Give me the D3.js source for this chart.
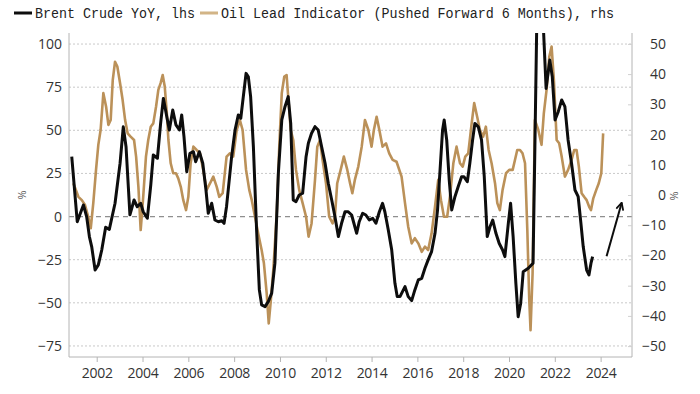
<!DOCTYPE html>
<html>
<head>
<meta charset="utf-8">
<script src="https://cdn.jsdelivr.net/npm/d3@7"></script>
<style>
  body { margin: 0; background: #fff; }
  svg { display: block; }
</style>
</head>
<body>
<div id="chart"></div>
<script>
// Brent Crude YoY (%), left axis
var brentYears = [2000.91, 2001.15, 2001.42, 2001.56, 2001.68, 2001.78, 2001.93, 2002.07, 2002.22, 2002.39, 2002.55, 2002.80,
  2003.02, 2003.16, 2003.28, 2003.38, 2003.45, 2003.63, 2003.77, 2003.92, 2004.03, 2004.21, 2004.36, 2004.47, 2004.65,
  2004.79, 2004.91, 2005.06, 2005.17, 2005.32, 2005.46, 2005.61, 2005.71, 2005.81, 2005.93, 2006.07, 2006.22, 2006.32,
  2006.48, 2006.63, 2006.77, 2006.87, 2007.02, 2007.16, 2007.31, 2007.46, 2007.56, 2007.67, 2007.89, 2008.04, 2008.18,
  2008.29, 2008.40, 2008.52, 2008.62, 2008.72, 2008.84, 2008.98, 2009.10, 2009.20, 2009.35, 2009.49, 2009.64, 2009.78,
  2009.93, 2010.08, 2010.22, 2010.36, 2010.47, 2010.58, 2010.70, 2010.84, 2010.99, 2011.14, 2011.24, 2011.38, 2011.53,
  2011.67, 2011.82, 2011.97, 2012.11, 2012.26, 2012.40, 2012.55, 2012.69, 2012.84, 2012.98, 2013.13, 2013.27, 2013.35,
  2013.46, 2013.61, 2013.75, 2013.90, 2014.05, 2014.19, 2014.34, 2014.48, 2014.58, 2014.73, 2014.88, 2015.02, 2015.12,
  2015.24, 2015.46, 2015.60, 2015.75, 2015.89, 2016.04, 2016.19, 2016.33, 2016.47, 2016.62, 2016.77, 2016.88, 2016.99,
  2017.10, 2017.17, 2017.28, 2017.39, 2017.50, 2017.64, 2017.78, 2017.93, 2018.03, 2018.18, 2018.29, 2018.41, 2018.51,
  2018.66, 2018.80, 2018.92, 2019.05, 2019.17, 2019.29, 2019.43, 2019.57, 2019.72, 2019.82, 2019.97, 2020.07, 2020.18,
  2020.30, 2020.40, 2020.51, 2020.62, 2020.84, 2021.05, 2021.13, 2021.21, 2021.35, 2021.50, 2021.62, 2021.78, 2021.89,
  2022.01, 2022.15, 2022.30, 2022.44, 2022.58, 2022.73, 2022.88, 2023.02, 2023.14, 2023.24, 2023.39, 2023.49, 2023.58,
  2023.65];
var brentYoY = [34.7, -3, 6.7, 0, -11.6, -17.4, -31, -28, -19.4, -6.2, -7.4, 7.7,
  30.9, 52, 40.5, 17.3, 1, 9.6, 5.7, 7.7, 2.8, -1, 18.3, 35.7, 33.8,
  54, 68.5, 57.9, 50.2, 61.8, 53.1, 50.2, 58.9, 46.3, 26, 36.7, 37.6, 31.8,
  37.6, 30.9, 15.4, 1.9, 7.7, -2, -3, -2.4, -3.9, 6, 34.7, 50.2, 58.9,
  57, 69.5, 83, 81, 69.5, 40.5, -7.8, -42.5, -51.2, -52.2, -49.3, -44.4, -27,
  25.1, 56, 63.7, 69.5, 54, 9.6, 8.6, 12.5, 13.5, 34.7, 42.5, 48.3, 52.1,
  50.2, 40.5, 30.9, 19.3, 9.6, 0, -11.6, -3.9, 2.8, 2.8, 0.9, -5.9, -9.7,
  -3, 1.9, 0.9, -2, -1, -3.9, 2.8, 7.7, 2.8, -7.8, -19.4, -38.7, -46.4,
  -46.4, -40.6, -46.4, -48.7, -42.5, -36.7, -35.8, -30, -25.1, -20.3, -9.7, 3.8, 27,
  50.2, 56, 44.4, 21.2, 3.8, 11.5, 17.3, 23.1, 23.1, 20.2, 30.9, 44.4, 54,
  52, 44.4, 23.1, -11.6, -5.9, -2, -9.7, -15.5, -19.4, -23.2, -3.9, 7.7, -11.6,
  -38.7, -58, -50.2, -32, -30, -27, 40, 110, 160, 110, 74.3, 90.7, 81,
  56, 60.8, 67.6, 63.7, 44.4, 30.9, 15.4, 11.5, -3.9, -17.4, -31, -33.8, -27,
  -23.2];

// Oil Lead Indicator (pushed forward 6 months), right axis
var leadYears = [2000.98, 2001.20, 2001.35, 2001.49, 2001.63, 2001.74, 2001.85, 2001.97, 2002.07, 2002.17, 2002.29, 2002.41,
  2002.51, 2002.61, 2002.70, 2002.80, 2002.90, 2003.02, 2003.13, 2003.24, 2003.35, 2003.48, 2003.63, 2003.72, 2003.82,
  2003.92, 2004.03, 2004.15, 2004.25, 2004.36, 2004.47, 2004.59, 2004.69, 2004.79, 2004.88, 2004.97, 2005.06, 2005.13,
  2005.23, 2005.34, 2005.46, 2005.56, 2005.67, 2005.78, 2005.90, 2006.00, 2006.10, 2006.22, 2006.36, 2006.51, 2006.65,
  2006.80, 2006.95, 2007.09, 2007.24, 2007.35, 2007.50, 2007.67, 2007.82, 2007.96, 2008.11, 2008.25, 2008.37, 2008.52,
  2008.66, 2008.77, 2008.91, 2009.05, 2009.20, 2009.30, 2009.42, 2009.51, 2009.59, 2009.71, 2009.86, 2009.97, 2010.08,
  2010.19, 2010.29, 2010.36, 2010.47, 2010.58, 2010.70, 2010.84, 2010.99, 2011.14, 2011.25, 2011.38, 2011.53, 2011.63,
  2011.75, 2011.86, 2012.01, 2012.15, 2012.30, 2012.40, 2012.50, 2012.65, 2012.79, 2012.94, 2013.06, 2013.16, 2013.27,
  2013.42, 2013.57, 2013.71, 2013.86, 2014.00, 2014.10, 2014.22, 2014.34, 2014.48, 2014.63, 2014.77, 2014.92, 2015.09,
  2015.31, 2015.46, 2015.60, 2015.75, 2015.89, 2016.04, 2016.19, 2016.33, 2016.47, 2016.62, 2016.77, 2016.91, 2017.03,
  2017.16, 2017.30, 2017.42, 2017.57, 2017.71, 2017.86, 2017.98, 2018.09, 2018.22, 2018.37, 2018.48, 2018.61, 2018.73,
  2018.87, 2018.99, 2019.11, 2019.24, 2019.39, 2019.49, 2019.60, 2019.72, 2019.87, 2020.01, 2020.16, 2020.26, 2020.36,
  2020.48, 2020.59, 2020.70, 2020.80, 2020.88, 2020.94, 2021.03, 2021.13, 2021.28, 2021.42, 2021.52, 2021.64, 2021.76,
  2021.86, 2021.96, 2022.08, 2022.19, 2022.30, 2022.44, 2022.58, 2022.73, 2022.85, 2022.95, 2023.05, 2023.17, 2023.28,
  2023.39, 2023.50, 2023.58, 2023.68, 2023.81, 2023.92, 2024.03, 2024.11];
var leadIndicator = [3.9, -0.6, -1.7, -3.3, -7.2, -11, -2.7, 8.3, 16.6, 21.5, 33.7, 29.2,
  23.2, 24.8, 38, 44.1, 42.5, 37, 31.5, 24.8, 20.4, 19.3, 18.2, 12.7, 2.7,
  -11.6, -0.6, 12.7, 18.2, 22.6, 23.7, 29.2, 34.8, 37, 39.7, 35.9, 27.1, 18.2,
  10.5, 7.2, 7.2, 5.5, 2.7, -1.7, -5, -0.6, 10.5, 16, 14.9, 13.8, 8.3,
  1.7, 3.9, 6.1, 2.7, -0.6, 0.6, 12.7, 13.8, 12.7, 21.5, 24.8, 21.5, 8.3,
  1.7, -1.7, -7.2, -12.7, -18.2, -22.6, -32.5, -42.5, -35.9, -24.8, -6.1, 16, 33.7,
  39.2, 39.7, 32.5, 21.5, 18.2, 8.3, 1.7, -2.7, -7.2, -13.8, -9.4, 5, 16,
  18.2, 11.6, 3.9, -7.2, -9.4, -7.2, 3.9, 8.3, 12.7, 8.3, 3.9, 0.6, 5,
  9.4, 16, 24.8, 21.5, 16, 21.5, 25.9, 21.5, 16, 17.1, 13.8, 11.6, 11,
  6.1, -2.7, -10.5, -16, -14.3, -16, -18.8, -17.1, -18.2, -12.7, -3.9, 5, -1.7,
  -7.2, -7.2, -0.6, 10.5, 16, 10.5, 9.4, 12.7, 13.8, 23.7, 30.4, 25.9, 21.5,
  19.3, 22.6, 14.9, 10.5, 3.9, -2.7, -5, 1.7, 7.2, 8.3, 8.3, 11.6, 14.9,
  14.9, 13.8, 10.5, -11.6, -33.7, -44.7, -25.9, 24.8, 21.5, 16.6, 27, 34.8, 45.8,
  49.1, 38, 18.2, 17.1, 12.7, 6.1, 8.3, 11.6, 14.9, 14.9, 9.4, 0.6, -0.6,
  -1.7, -3.9, -5, -1.1, 1.7, 3.9, 7.2, 20.4];

var leftTicks = [-75, -50, -25, 0, 25, 50, 75, 100];
var rightTicks = [-50, -40, -30, -20, -10, 0, 10, 20, 30, 40, 50];
var yearTicks = [2002, 2004, 2006, 2008, 2010, 2012, 2014, 2016, 2018, 2020, 2022, 2024];
var seriesNames = ["Brent Crude YoY, lhs", "Oil Lead Indicator (Pushed Forward 6 Months), rhs"];
// annotation arrow, in (year, lhs value)
var arrowFrom = [2024.26, -23];
var arrowTo = [2024.92, 8];

var margin = {top: 33, right: 68, bottom: 37, left: 69},
  width = 700 - margin.left - margin.right,
  height = 394 - margin.top - margin.bottom;

var svg = d3.select("#chart")
.append("svg")
  .attr("width", 700)
  .attr("height", 394)
.append("g")
  .attr("transform", "translate(" + margin.left + "," + margin.top + ")");

var x = d3.scaleLinear().domain([2000.79, 2025.37]).range([0, width]);
var yL = d3.scaleLinear().domain([-81.4, 106.4]).range([height, 0]);
var yR = d3.scaleLinear().domain([-53.6, 53.6]).range([height, 0]);

var black = "#0d0d0d", gold = "#bb9159", axisCol = "#b4b4b4", textCol = "#333";
var tickFont = "'Open Sans', sans-serif";

// gridlines
svg.selectAll(".grid")
.data(leftTicks.filter(function(d){ return d !== 0; }))
.enter()
.append("line")
  .attr("x1", 0).attr("x2", width)
  .attr("y1", function(d){ return yL(d); })
  .attr("y2", function(d){ return yL(d); })
  .attr("stroke", "#c9c9c9")
  .attr("stroke-dasharray", "2,2");

svg.append("line")
  .attr("x1", 0).attr("x2", width)
  .attr("y1", yL(0)).attr("y2", yL(0))
  .attr("stroke", "#8f8f8f")
  .attr("stroke-width", 1.2)
  .attr("stroke-dasharray", "5,4");

// frame
svg.append("path")
  .attr("d", "M0,0V" + height + "H" + width + "V0")
  .attr("fill", "none")
  .attr("stroke", axisCol);

// left axis
var gl = svg.append("g")
  .call(d3.axisLeft(yL).tickValues(leftTicks).tickSize(0).tickPadding(7));
gl.select(".domain").remove();
gl.selectAll("text").style("font-family", tickFont).style("font-size", "14px").attr("fill", textCol);

// right axis
var gr = svg.append("g")
  .attr("transform", "translate(" + width + ",0)")
  .call(d3.axisRight(yR).tickValues(rightTicks).tickSize(-4).tickPadding(0));
gr.select(".domain").remove();
gr.selectAll("line").attr("stroke", "#d0d0d0");
gr.selectAll("text")
  .attr("x", 34)
  .attr("text-anchor", "end")
  .style("font-family", tickFont).style("font-size", "14px").attr("fill", textCol);

// bottom axis
var gb = svg.append("g")
  .attr("transform", "translate(0," + height + ")")
  .call(d3.axisBottom(x).tickValues(yearTicks).tickFormat(d3.format("d")).tickSize(5).tickPadding(6));
gb.select(".domain").remove();
gb.selectAll("line").attr("stroke", axisCol);
gb.selectAll("text").style("font-family", tickFont).style("font-size", "14px")
  .style("letter-spacing", "-0.3px").attr("fill", textCol);

// % unit labels
svg.append("text")
  .attr("transform", "translate(" + (-47) + "," + (yR(0)) + ") rotate(-90)")
  .attr("text-anchor", "middle").attr("dy", "0.35em")
  .style("font-family", tickFont).style("font-size", "11px").attr("fill", "#555")
  .text("%");
svg.append("text")
  .attr("transform", "translate(" + (width + 42) + "," + (yR(0) + 1) + ") rotate(-90)")
  .attr("text-anchor", "middle").attr("dy", "0.35em")
  .style("font-family", tickFont).style("font-size", "11px").attr("fill", "#555")
  .text("%");

// lines
svg.append("clipPath").attr("id", "plotclip")
.append("rect").attr("width", width).attr("height", height);

var leadLine = d3.line()
  .x(function(d){ return x(d[0]); })
  .y(function(d){ return yR(d[1]); });
var brentLine = d3.line()
  .x(function(d){ return x(d[0]); })
  .y(function(d){ return yL(d[1]); });

svg.append("path")
  .datum(d3.zip(leadYears, leadIndicator))
  .attr("clip-path", "url(#plotclip)")
  .attr("fill", "none")
  .attr("stroke", gold)
  .attr("stroke-width", 2.6)
  .attr("stroke-linejoin", "round")
  .attr("d", leadLine);

svg.append("path")
  .datum(d3.zip(brentYears, brentYoY))
  .attr("clip-path", "url(#plotclip)")
  .attr("fill", "none")
  .attr("stroke", black)
  .attr("stroke-width", 3)
  .attr("stroke-linejoin", "round")
  .attr("d", brentLine);

// arrow annotation
svg.append("defs").append("marker")
  .attr("id", "arrowhead")
  .attr("viewBox", "0 0 10 10")
  .attr("refX", 9).attr("refY", 5)
  .attr("markerUnits", "userSpaceOnUse")
  .attr("markerWidth", 9).attr("markerHeight", 9)
  .attr("orient", "auto")
.append("path")
  .attr("d", "M1,1L9,5L1,9")
  .attr("fill", "none")
  .attr("stroke", black)
  .attr("stroke-width", 2)
  .attr("stroke-linejoin", "miter");

svg.append("line")
  .attr("x1", x(arrowFrom[0])).attr("y1", yL(arrowFrom[1]))
  .attr("x2", x(arrowTo[0])).attr("y2", yL(arrowTo[1]))
  .attr("stroke", black)
  .attr("stroke-width", 2)
  .attr("marker-end", "url(#arrowhead)");

// legend
var legend = d3.select("svg").append("g");
var legX = [14, 200];
var legW = [160, 393];
legend.selectAll("rect")
.data(seriesNames)
.enter()
.append("rect")
  .attr("x", function(d, i){ return legX[i]; })
  .attr("y", 11.5)
  .attr("width", 18)
  .attr("height", 3)
  .attr("fill", function(d, i){ return i === 0 ? black : "#d2b486"; });
legend.selectAll("text")
.data(seriesNames)
.enter()
.append("text")
  .attr("x", function(d, i){ return legX[i] + 21; })
  .attr("y", 18)
  .attr("textLength", function(d, i){ return legW[i]; })
  .attr("lengthAdjust", "spacingAndGlyphs")
  .style("font-family", "'Liberation Mono', monospace")
  .style("font-size", "14px")
  .attr("fill", "#222")
  .text(function(d){ return d; });
</script>
</body>
</html>
